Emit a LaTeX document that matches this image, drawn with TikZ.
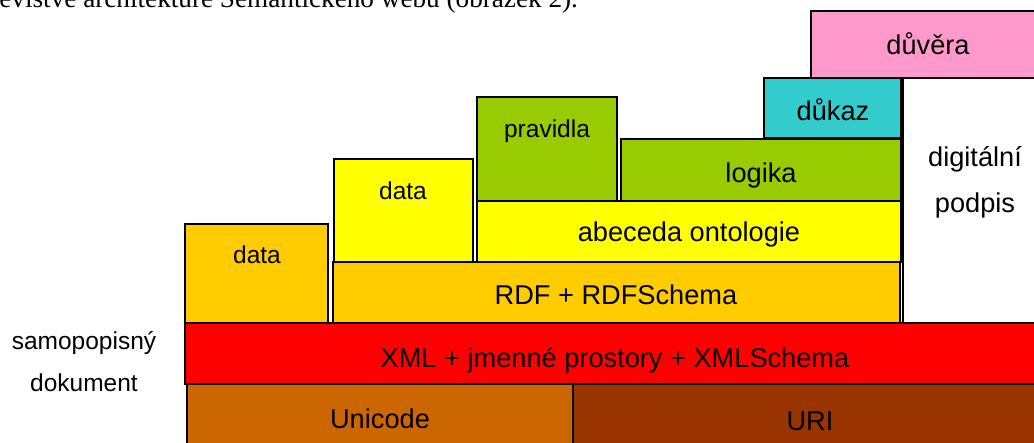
\documentclass[tikz,border=0pt]{standalone}
\usepackage{fontspec}
\setmainfont{Liberation Sans}
\newfontfamily\toptextfont{Liberation Serif}
\definecolor{cOrange}{HTML}{FFCC00}
\definecolor{cYellow}{HTML}{FFFF00}
\definecolor{cGreen}{HTML}{99CC00}
\definecolor{cTeal}{HTML}{33CCCC}
\definecolor{cPink}{HTML}{FF99CC}
\definecolor{cRed}{HTML}{FF0000}
\definecolor{cUni}{HTML}{CC6600}
\definecolor{cUri}{HTML}{993300}
\begin{document}
\begin{tikzpicture}[x=0.5pt,y=-0.5pt,
  layer/.style={draw=black, line width=1pt},
  big/.style={anchor=base, inner sep=0pt, font=\fontsize{13.6}{16}\selectfont},
  small/.style={anchor=base, inner sep=0pt, font=\fontsize{12.25}{14}\selectfont}]
\useasboundingbox (0,0) rectangle (1034,443);
\clip (0,0) rectangle (1034,443);
\fill[white] (0,0) rectangle (1034,443);
% clipped line of text above the figure
\node[anchor=base west, inner sep=0pt, font=\toptextfont\fontsize{13.6}{16}\selectfont] (toptext) at (-1,7.5) {evistvé architektuře Sémantického webu (obrázek 2).};
% boxes
\draw[layer, fill=cPink]   (811,11)  rectangle (1047,78);
\draw[layer, fill=cTeal]   (764,78)  rectangle (901,138);
\draw[layer, fill=cGreen]  (477,97)  rectangle (617,201);
\draw[layer, fill=cGreen]  (621,139) rectangle (901,201);
\draw[layer, fill=cYellow] (334,159) rectangle (473,263);
\draw[layer, fill=cYellow] (477,201) rectangle (901,262);
\draw[layer, fill=white]   (903,78)  rectangle (1047,323);
\draw[layer, fill=cOrange] (185,224) rectangle (328,323);
\draw[layer, fill=cOrange] (333,262) rectangle (900,323);
\draw[layer, fill=cRed]    (185,323) rectangle (1047,384);
\draw[layer, fill=cUni]    (187,384) rectangle (573,452);
\draw[layer, fill=cUri]    (573,384) rectangle (1047,452);
% labels
\node[big]   (duvera)   at (928,55)  {důvěra};
\node[big]   (dukaz)    at (833,121) {důkaz};
\node[small] (pravidla) at (547,138) {pravidla};
\node[big]   (logika)   at (761,183) {logika};
\node[small] (dataY)    at (403,200) {data};
\node[big]   (abeceda)  at (689,242) {abeceda ontologie};
\node[big]   (digi)     at (975,167) {digitální};
\node[big]   (podpis)   at (975,213) {podpis};
\node[small] (dataL)    at (257,264) {data};
\node[big]   (rdf)      at (616,305) {RDF + RDFSchema};
\node[big]   (xml)      at (615,368) {XML + jmenné prostory + XMLSchema};
\node[big]   (unicode)  at (380,429) {Unicode};
\node[big]   (uri)      at (810,430) {URI};
\node[small] (samo)     at (84,350)  {samopopisný};
\node[small] (dok)      at (84,392)  {dokument};
\end{tikzpicture}
\end{document}
